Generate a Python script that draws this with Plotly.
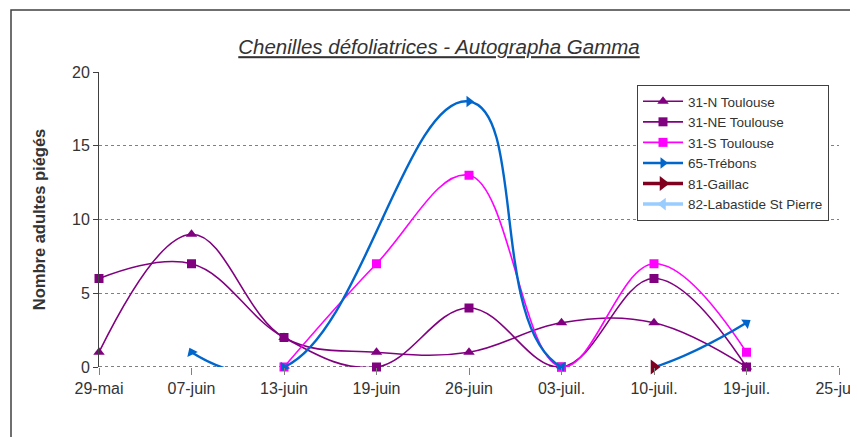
import plotly.graph_objects as go

categories = ["29-mai", "07-juin", "13-juin", "19-juin", "26-juin", "03-juil.", "10-juil.", "19-juil.", "25-juil."]

n_toulouse = [1, 9, 2, 1, 1, 3, 3, 0, None]
ne_toulouse = [6, 7, 2, 0, 4, 0, 6, 0, None]
s_toulouse = [None, None, 0, 7, 13, 0, 7, 1, None]
trebons = [None, 1, 0, None, 18, 0, None, 3, None]
gaillac = [None, None, None, None, None, None, 0, None, None]
labastide = [None, None, None, None, None, None, None, None, None]

y_ticks = [0, 5, 10, 15, 20]

# figure geometry (pixels); page body has an 8px offset
OFF = 8
W, H = 858, 437
ML = 99 - OFF
MT = 72 - OFF
PW = 839 - 99
PH = 367 - 72
MR = W - ML - PW
MB = H - MT - PH

FONT = "Liberation Sans, Arial, sans-serif"
TXT = "#333333"

trebons_angles = [0, -115, 125, 0, 0, 60, 0, -35, 0]

series = [
    dict(name="31-N Toulouse", y=n_toulouse, color="#800080", symbol="triangle-up", width=1.6, size=10, angle=0, sm=1.1),
    dict(name="31-NE Toulouse", y=ne_toulouse, color="#800080", symbol="square", width=1.6, size=9, angle=0, sm=1.1),
    dict(name="31-S Toulouse", y=s_toulouse, color="#FF00FF", symbol="square", width=1.6, size=9, angle=0, sm=1.1),
    dict(name="65-Trébons", y=trebons, color="#0066CC", symbol="triangle-right", width=2.4, size=10, angle=trebons_angles, sm=1.3),
    dict(name="81-Gaillac", y=gaillac, color="#800020", symbol="triangle-right", width=3.5, size=13, angle=0, sm=1.0),
    dict(name="82-Labastide St Pierre", y=labastide, color="#99CCFF", symbol="triangle-left", width=3.5, size=11, angle=0, sm=1.0),
]

fig = go.Figure()
for s in series:
    fig.add_trace(go.Scatter(
        x=categories, y=s["y"], name=s["name"], mode="lines+markers",
        connectgaps=True, cliponaxis=False,
        line=dict(color=s["color"], width=s["width"], shape="spline", smoothing=s["sm"]),
        marker=dict(color=s["color"], symbol=s["symbol"], size=s["size"], angle=s["angle"],
                    line=dict(width=0)),
    ))

# chart frame (extends past right and bottom edges)
fig.add_shape(type="rect", xref="paper", yref="paper",
              x0=(11 - 99) / PW, x1=(W + 30 - 99) / PW,
              y0=-(H + 30 - 367) / PH, y1=1 + (72 - 10) / PH,
              line=dict(color="#404040", width=1.5), layer="below")
# zero baseline
fig.add_shape(type="line", xref="paper", yref="y", x0=0, x1=1, y0=0, y1=0,
              line=dict(color="#808080", width=2, dash="dot"), layer="below")

fig.update_layout(
    width=W, height=H,
    margin=dict(l=ML, r=MR, t=MT, b=MB, autoexpand=False),
    paper_bgcolor="white", plot_bgcolor="white",
    font=dict(family=FONT, color=TXT, size=16),
    title=dict(text="<i><u>Chenilles défoliatrices - Autographa Gamma</u></i>",
               font=dict(family=FONT, size=20.5, color=TXT),
               x=(439 - OFF) / W, xanchor="center", xref="container",
               y=1 - (47 - OFF) / H, yanchor="middle", yref="container"),
    showlegend=True,
    legend=dict(x=(637 - 99) / PW, y=1 - (85 - 72) / PH, xanchor="left", yanchor="top",
                bgcolor="white", bordercolor="#404040", borderwidth=1,
                font=dict(family=FONT, size=13.5, color=TXT),
                itemwidth=40, tracegroupgap=0),
    xaxis=dict(type="category", range=[0, 8], showgrid=False, zeroline=False,
               showline=False, ticks="outside", ticklen=7, tickcolor="#808080",
               automargin=False,
               tickfont=dict(family=FONT, size=16, color=TXT)),
    yaxis=dict(range=[0, 20], tickvals=y_ticks, showgrid=True, gridcolor="#808080",
               griddash="dot", gridwidth=1, zeroline=False,
               showline=True, linecolor="#404040", linewidth=1,
               ticks="outside", ticklen=5, tickcolor="#404040", automargin=False,
               tickfont=dict(family=FONT, size=16, color=TXT),
               title=dict(text="<b>Nombre adultes piégés</b>",
                          font=dict(family=FONT, size=16.5, color=TXT), standoff=22)),
)

fig.write_html("out.html")
